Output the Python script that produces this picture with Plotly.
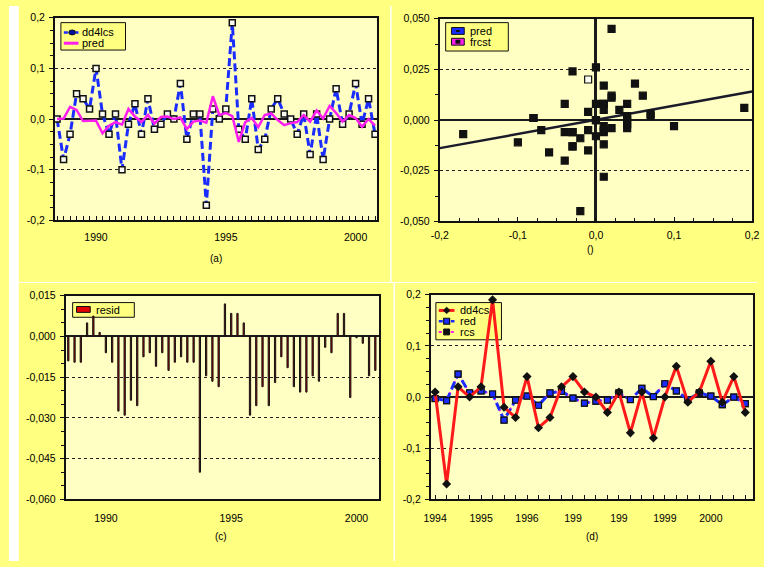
import plotly.graph_objects as go
import pandas as pd

W, H = 764, 567
FONT = "Liberation Sans, Arial, sans-serif"

# ---------------- data ----------------
PERIODS = pd.period_range("1988Q3", "2000Q4", freq="Q")
D_START = "1994Q1"

dd4lcs = [0.00, -0.08, -0.03, 0.05, 0.04, 0.02, 0.10, 0.01, -0.03, 0.01,
          -0.10, -0.01, 0.03, -0.03, 0.04, -0.02, -0.01, 0.01, 0.00, 0.07,
          -0.04, 0.01, 0.01, -0.17, 0.02, 0.00, 0.02, 0.19, -0.02, -0.04,
          0.04, -0.06, -0.04, 0.02, 0.04, 0.01, 0.00, -0.03, 0.01, -0.07,
          0.01, -0.08, 0.00, 0.06, -0.01, 0.01, 0.07, -0.01, 0.04, -0.03]

pred = [0.000, 0.001, 0.024, 0.018, -0.004, -0.004, -0.003, -0.028, -0.013, -0.006,
        -0.011, 0.020, 0.005, -0.006, 0.008, -0.009, 0.004, 0.005, 0.000, 0.003,
        -0.020, -0.005, -0.003, -0.007, 0.045, 0.008, 0.012, 0.006, -0.045, -0.006,
        0.002, -0.016, 0.008, 0.011, -0.002, -0.012, -0.008, -0.006, 0.008, -0.005,
        0.017, 0.001, 0.026, 0.012, -0.005, 0.008, 0.002, -0.015, 0.000, -0.013]

resid = [-0.0090, -0.0095, -0.0095, 0.0050, 0.0075, 0.0015, -0.0060, -0.0095, -0.0275, -0.0290,
         -0.0235, -0.0255, -0.0075, -0.0060, -0.0110, -0.0060, -0.0125, -0.0095, -0.0075, -0.0095,
         -0.0095, -0.0500, -0.0145, -0.0165, -0.0185, 0.0120, 0.0085, 0.0085, 0.0050, -0.0290,
         -0.0255, -0.0185, -0.0255, -0.0170, -0.0075, -0.0115, -0.0185, -0.0205, -0.0205, -0.0145,
         -0.0165, -0.0040, -0.0060, 0.0085, 0.0085, -0.0225, -0.0005, -0.0025, -0.0145, -0.0125]

HOLLOW_POINTS = [11]          # scatter point drawn hollow in panel (b)
FIT_SLOPE = 0.0698            # regression line
FIT_INTERCEPT = 0.0001

A_XTICKS = [1990, 1995, 2000]
A_XLABELS = ["1990", "1995", "2000"]
A_YTICKS = [-0.2, -0.1, 0.0, 0.1, 0.2]
A_YLABELS = ["-0,2", "-0,1", "0,0", "0,1", "0,2"]
B_XTICKS = [-0.2, -0.1, 0.0, 0.1, 0.2]
B_XLABELS = ["-0,2", "-0,1", "0,0", "0,1", "0,2"]
B_YTICKS = [-0.05, -0.025, 0.0, 0.025, 0.05]
B_YLABELS = ["-0,050", "-0,025", "0,000", "0,025", "0,050"]
C_XTICKS = [1990, 1995, 2000]
C_XLABELS = ["1990", "1995", "2000"]
C_YTICKS = [-0.06, -0.045, -0.03, -0.015, 0.0, 0.015]
C_YLABELS = ["-0,060", "-0,045", "-0,030", "-0,015", "0,000", "0,015"]
D_XTICKS = [1994, 1995, 1996, 1997, 1998, 1999, 2000]
D_XLABELS = ["1994", "1995", "1996", "199", "199", "1999", "2000"]
D_YTICKS = A_YTICKS
D_YLABELS = A_YLABELS

CAPTIONS = ["(a)", "()", "(c)", "(d)"]

# ---------------- derived ----------------
xq = [p.year + (p.quarter - 1) / 4 for p in PERIODS]
d0 = list(PERIODS.astype(str)).index(D_START)
xq_d = xq[d0:]
dd4cs_d = dd4lcs[d0:]
red_d = pred[d0:]
rcs_d = pred[d0:]

BLUE = "#1a2cff"
MAGENTA = "#ff1ef0"
RED = "#ff1a1a"
PANEL = "#ffff80"
PLOT = "#ffffc4"
INK = "#111111"


def PX(x):
    return x / W


def PY(y):
    return 1 - y / H


fig = go.Figure()

# (a)
fig.add_trace(go.Scatter(x=xq, y=dd4lcs, mode="lines+markers", xaxis="x", yaxis="y",
                         line=dict(color=BLUE, width=3, dash="8px,4px"),
                         marker=dict(symbol="square", size=6, color="#fbfbf0",
                                     line=dict(color=INK, width=1.5)),
                         showlegend=False))
fig.add_trace(go.Scatter(x=xq, y=pred, mode="lines", xaxis="x", yaxis="y",
                         line=dict(color=MAGENTA, width=2.5), showlegend=False))

# (b)
fx = [B_XTICKS[0], B_XTICKS[-1]]
fig.add_trace(go.Scatter(x=fx, y=[FIT_INTERCEPT + FIT_SLOPE * v for v in fx], mode="lines",
                         xaxis="x2", yaxis="y2", line=dict(color="#1a1a2a", width=2.5),
                         showlegend=False))
fill = ["#fbfbf0" if i in HOLLOW_POINTS else INK for i in range(len(dd4lcs))]
fig.add_trace(go.Scatter(x=dd4lcs, y=pred, mode="markers", xaxis="x2", yaxis="y2",
                         marker=dict(symbol="square", size=7, color=fill,
                                     line=dict(color=INK, width=1.2)),
                         showlegend=False))

# (c)
fig.add_trace(go.Bar(x=xq, y=resid, xaxis="x3", yaxis="y3", width=0.05,
                     marker=dict(color="#c00000", line=dict(color=INK, width=1)),
                     showlegend=False))

# (d)
fig.add_trace(go.Scatter(x=xq_d, y=rcs_d, mode="lines+markers", xaxis="x4", yaxis="y4",
                         line=dict(color=MAGENTA, width=2, dash="dot"),
                         marker=dict(symbol="square", size=7, color=INK),
                         showlegend=False))
fig.add_trace(go.Scatter(x=xq_d, y=red_d, mode="lines+markers", xaxis="x4", yaxis="y4",
                         line=dict(color=BLUE, width=3, dash="8px,4px"),
                         marker=dict(symbol="square", size=6, color=BLUE,
                                     line=dict(color=INK, width=1.2)),
                         showlegend=False))
fig.add_trace(go.Scatter(x=xq_d, y=dd4cs_d, mode="lines+markers", xaxis="x4", yaxis="y4",
                         line=dict(color=RED, width=3),
                         marker=dict(symbol="diamond", size=7, color=INK),
                         showlegend=False))

tickfont = dict(family=FONT, size=10.5, color="black")


def xaxis(dom, rng, tv, tt, anchor, minor=None, ticks="inside", zeroline=False, standoff=4):
    d = dict(domain=[PX(dom[0]), PX(dom[1])], range=rng, anchor=anchor,
             tickmode="array", tickvals=tv, ticktext=tt, ticks=ticks, ticklen=4,
             tickcolor=INK, tickwidth=1, tickfont=tickfont, showline=True, linecolor=INK,
             linewidth=2, mirror=True, showgrid=False, zeroline=zeroline,
             zerolinecolor="#1a1a1a", zerolinewidth=3, ticklabelstandoff=standoff,
             ticklabeloverflow="allow")
    if minor:
        d["minor"] = minor
    return d


def yaxis(dom, rng, tv, tt, anchor, minor=None):
    d = dict(domain=[PY(dom[1]), PY(dom[0])], range=rng, anchor=anchor,
             tickmode="array", tickvals=tv, ticktext=tt, ticks="outside", ticklen=4,
             tickcolor=INK, tickwidth=1, tickfont=tickfont, showline=True, linecolor=INK,
             linewidth=2, mirror=True, showgrid=True, gridcolor="#222222", griddash="dot",
             gridwidth=1, zeroline=True, zerolinecolor="#1a1a1a", zerolinewidth=2,
             ticklabelstandoff=2, ticklabeloverflow="allow")
    if minor:
        d["minor"] = minor
    return d


qminor = dict(tickmode="linear", tick0=1988.5, dtick=0.25, ticks="inside", ticklen=4,
              tickcolor=INK, showgrid=False)

layout = dict(
    width=W, height=H, margin=dict(l=0, r=0, t=0, b=0), autosize=False,
    paper_bgcolor=PANEL, plot_bgcolor=PLOT, showlegend=False,
    font=dict(family=FONT, size=10.5, color="black"),
    xaxis=xaxis((47, 376), [1988.42, 2000.83], A_XTICKS, A_XLABELS, "y", minor=qminor, standoff=6),
    yaxis=yaxis((12, 219), [-0.2, 0.2], A_YTICKS, A_YLABELS, "x",
                minor=dict(tickmode="linear", tick0=0, dtick=0.025, ticks="outside",
                           ticklen=3, tickcolor=INK, showgrid=False)),
    xaxis2=xaxis((440, 759), [-0.2, 0.2], B_XTICKS, B_XLABELS, "y2",
                 minor=dict(tickmode="linear", tick0=0, dtick=0.025, ticks="inside",
                            ticklen=3, tickcolor=INK, showgrid=False),
                 ticks="inside", zeroline=True, standoff=3),
    yaxis2=yaxis((13, 220), [-0.05, 0.05], B_YTICKS, B_YLABELS, "x2",
                 minor=dict(tickmode="linear", tick0=0, dtick=0.0125, ticks="outside",
                            ticklen=3, tickcolor=INK, showgrid=False)),
    xaxis3=xaxis((58, 378), [1988.40, 2000.90], C_XTICKS, C_XLABELS, "y3", ticks="", standoff=8),
    yaxis3=yaxis((296, 504), [-0.06, 0.015], C_YTICKS, C_YLABELS, "x3",
                 minor=dict(tickmode="linear", tick0=0, dtick=0.005, ticks="outside",
                            ticklen=3, tickcolor=INK, showgrid=False)),
    xaxis4=xaxis((431, 760), [1993.91, 2000.92], D_XTICKS, D_XLABELS, "y4",
                 minor=dict(tickmode="linear", tick0=1994, dtick=0.25, ticks="inside",
                            ticklen=4, tickcolor=INK, showgrid=False), standoff=8),
    yaxis4=yaxis((295, 504), [-0.2, 0.2], D_YTICKS, D_YLABELS, "x4",
                 minor=dict(tickmode="linear", tick0=0, dtick=0.025, ticks="outside",
                            ticklen=3, tickcolor=INK, showgrid=False)),
)

shapes = []
annotations = []

# white separators between panels
shapes.append(dict(type="rect", xref="paper", yref="paper", x0=0, x1=PX(10), y0=0, y1=1,
                   fillcolor="white", line=dict(width=0), layer="below"))
shapes.append(dict(type="line", xref="paper", yref="paper", x0=PX(390), x1=PX(390),
                   y0=PY(282), y1=1, line=dict(color="white", width=1.5), layer="below"))
shapes.append(dict(type="line", xref="paper", yref="paper", x0=PX(393.5), x1=PX(393.5),
                   y0=0, y1=PY(283), line=dict(color="white", width=1.5), layer="below"))
shapes.append(dict(type="line", xref="paper", yref="paper", x0=PX(10), x1=1,
                   y0=PY(282.5), y1=PY(282.5), line=dict(color="white", width=1), layer="below"))


def rect(x0, y0, x1, y1, fill, lw=1, layer="above", lc=INK):
    shapes.append(dict(type="rect", xref="paper", yref="paper", x0=PX(x0), x1=PX(x1),
                       y0=PY(y1), y1=PY(y0), fillcolor=fill,
                       line=dict(color=lc, width=lw), layer=layer))


def seg(x0, x1, y, color, width, dash="solid"):
    shapes.append(dict(type="line", xref="paper", yref="paper", x0=PX(x0), x1=PX(x1),
                       y0=PY(y), y1=PY(y), line=dict(color=color, width=width, dash=dash),
                       layer="above"))


def label(x, y, text, size=11, anchor="left"):
    annotations.append(dict(x=PX(x), y=PY(y), xref="paper", yref="paper", text=text,
                            showarrow=False, xanchor=anchor, yanchor="middle",
                            font=dict(family=FONT, size=size, color="black")))


# legend (a)
rect(53, 17, 119, 45, PANEL, layer="below")
seg(56, 71, 27, BLUE, 2.5, "4px,2px")
shapes.append(dict(type="circle", xref="paper", yref="paper", x0=PX(61), x1=PX(68),
                   y0=PY(29.5), y1=PY(24.5), fillcolor="#0010a0",
                   line=dict(color=INK, width=1), layer="above"))
seg(56, 71, 38, MAGENTA, 3)
label(73, 27, "dd4lcs")
label(73, 38, "pred")

# legend (b)
rect(446, 17, 510, 46, PANEL, layer="below")
rect(452, 22, 465, 29, BLUE)
rect(456.5, 24.5, 460.5, 26.5, INK, lw=0)
rect(452, 33, 465, 40, MAGENTA)
rect(456, 34.5, 461, 38.5, INK, lw=0)
label(469, 25.5, "pred")
label(469, 36.5, "frcst")

# legend (c)
rect(65, 303, 128, 318, PANEL, layer="below")
rect(69, 307, 83, 313, "#e00000")
label(87, 310.5, "resid")

# legend (d)
rect(436, 303, 503, 341, PANEL, layer="below")
seg(439, 455, 311, RED, 3)
shapes.append(dict(type="path", xref="paper", yref="paper",
                   path="M {} {} L {} {} L {} {} L {} {} Z".format(
                       PX(447), PY(307.5), PX(450.5), PY(311), PX(447), PY(314.5),
                       PX(443.5), PY(311)),
                   fillcolor=INK, line=dict(color=INK, width=0.5), layer="above"))
seg(439, 455, 322, BLUE, 2.5, "4px,2px")
rect(444, 319, 450, 325, BLUE, lw=1.2)
seg(439, 455, 333, MAGENTA, 2, "dot")
rect(444, 330, 450, 336, INK, lw=1)
label(459, 311, "dd4cs")
label(459, 322, "red")
label(459, 333, "rcs")

# captions
label(211, 258, CAPTIONS[0], size=10, anchor="center")
label(594, 249, CAPTIONS[1], size=10, anchor="center")
label(217, 542, CAPTIONS[2], size=10, anchor="center")
label(595, 542, CAPTIONS[3], size=10, anchor="center")

layout["shapes"] = shapes
layout["annotations"] = annotations
fig.update_layout(**layout)

POST = ("document.body.style.margin='0';document.body.style.padding='0';"
        "document.body.style.overflow='hidden';"
        "var d=document.getElementById('{plot_id}');"
        "d.style.position='absolute';d.style.left='0px';d.style.top='0px';")
fig.write_html("out.html", config={"displayModeBar": False, "responsive": False},
               post_script=POST)
